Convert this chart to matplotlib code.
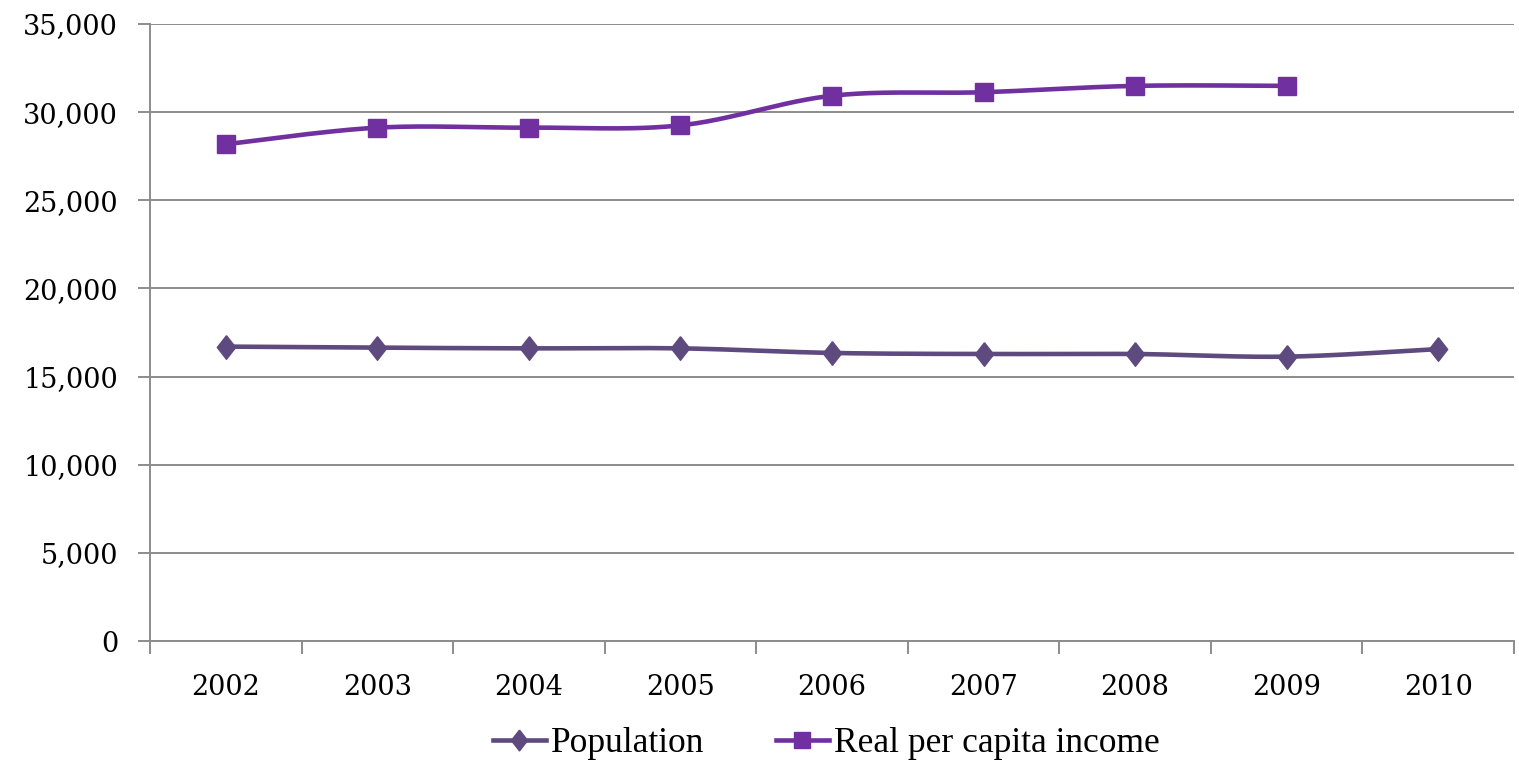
import matplotlib.pyplot as plt
import numpy as np
from matplotlib.ticker import FuncFormatter, MultipleLocator

years = ['2002', '2003', '2004', '2005', '2006', '2007', '2008', '2009', '2010']
population = [16700, 16640, 16600, 16600, 16340, 16280, 16280, 16130, 16560]
income = [28180, 29120, 29120, 29250, 30930, 31130, 31490, 31490]


def smooth(x, y, n=30, t=0.5):
    # cardinal spline through the points, like Excel's smoothed line
    x = np.asarray(x, float)
    y = np.asarray(y, float)
    px = np.concatenate([[x[0]], x, [x[-1]]])
    py = np.concatenate([[y[0]], y, [y[-1]]])
    xs, ys = [], []
    for i in range(1, len(px) - 2):
        s = np.linspace(0, 1, n)
        mx0 = t * (px[i + 1] - px[i - 1])
        my0 = t * (py[i + 1] - py[i - 1])
        mx1 = t * (px[i + 2] - px[i])
        my1 = t * (py[i + 2] - py[i])
        h00 = 2 * s**3 - 3 * s**2 + 1
        h10 = s**3 - 2 * s**2 + s
        h01 = -2 * s**3 + 3 * s**2
        h11 = s**3 - s**2
        xs.append(h00 * px[i] + h10 * mx0 + h01 * px[i + 1] + h11 * mx1)
        ys.append(h00 * py[i] + h10 * my0 + h01 * py[i + 1] + h11 * my1)
    return np.concatenate(xs), np.concatenate(ys)


plt.rcParams['font.family'] = ['DejaVu Serif']

# Excel diamond: a bit taller than wide
diamond = [(0, 1), (0.78, 0), (0, -1), (-0.78, 0), (0, 1)]

fig = plt.figure(figsize=(15.19, 7.64), dpi=100)
ax = fig.add_axes([150 / 1519, 1 - 641 / 764, (1514 - 150) / 1519, (641 - 24) / 764])

pop_c = '#5E4A7E'
inc_c = '#7030A0'

xp = np.arange(len(population))
xi = np.arange(len(income))
sx, sy = smooth(xp, population)
ax.plot(sx, sy, color=pop_c, lw=3.3, solid_capstyle='round', zorder=3)
ax.plot(xp, population, ls='none', marker=diamond, ms=17, color=pop_c, zorder=4)
sx, sy = smooth(xi, income)
ax.plot(sx, sy, color=inc_c, lw=3.3, solid_capstyle='round', zorder=3)
ax.plot(xi, income, ls='none', marker='s', ms=13.5, color=inc_c, zorder=4)

ax.set_xlim(-0.5, len(years) - 0.5)
ax.set_ylim(0, 35000)
ax.yaxis.set_major_locator(MultipleLocator(5000))
ax.yaxis.set_major_formatter(FuncFormatter(lambda v, p: f'{int(v):,}'))
ax.grid(axis='y', color='#8C8C8C', lw=1.4)
ax.set_axisbelow(True)

ax.set_xticks(np.arange(len(years)))
ax.set_xticklabels(years)
ax.set_xticks(np.arange(len(years) + 1) - 0.5, minor=True)
ax.tick_params(axis='x', which='major', length=0, pad=24, labelsize=19.5)
ax.tick_params(axis='x', which='minor', length=9, width=1.4, color='#8C8C8C', direction='out')
ax.tick_params(axis='y', length=9, width=1.4, color='#8C8C8C', pad=14, labelsize=19.5)

for s in ['top', 'right']:
    ax.spines[s].set_visible(False)
for s in ['left', 'bottom']:
    ax.spines[s].set_color('#8C8C8C')
    ax.spines[s].set_linewidth(1.4)

h1, = ax.plot([], [], color=pop_c, lw=3.3, marker=diamond, ms=15)
h2, = ax.plot([], [], color=inc_c, lw=3.3, marker='s', ms=12)
fig.legend([h1, h2], ['Population', 'Real per capita income'], loc='center',
           bbox_to_anchor=(0.544, 1 - 744 / 764), ncol=2, frameon=False,
           prop={'family': 'Liberation Serif', 'size': 25.5},
           handlelength=1.5, handletextpad=0.15, columnspacing=2.0)

fig.savefig('out.png', dpi=100)
